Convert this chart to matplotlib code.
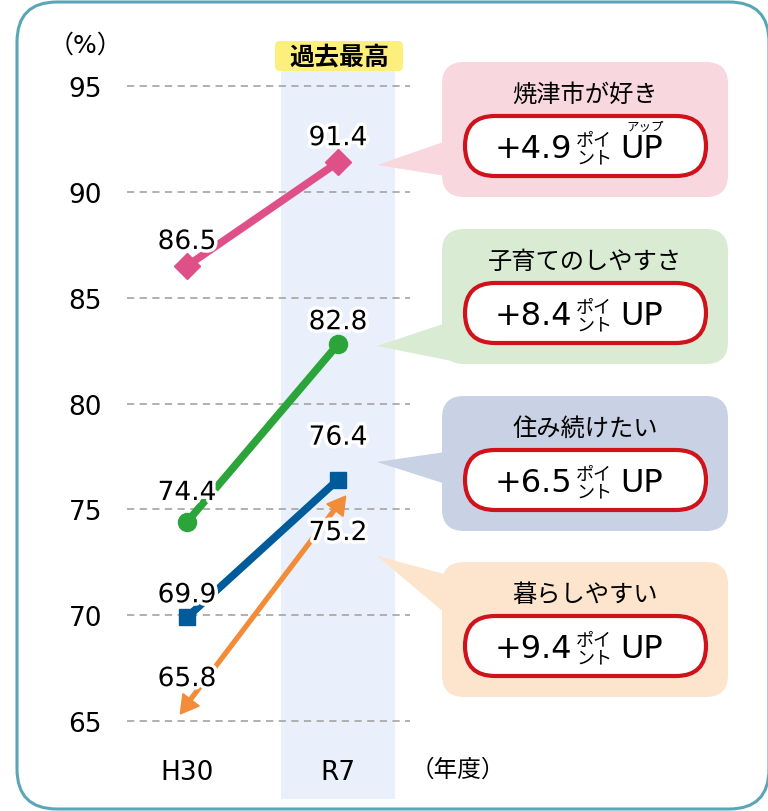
import matplotlib
matplotlib.use('Agg')
import numpy as np
import matplotlib.pyplot as plt
import matplotlib.patheffects as pe
from matplotlib.patches import FancyBboxPatch, Polygon

plt.rcParams['font.family'] = ['DejaVu Sans', 'Noto Sans CJK JP']

# donnees
years = ['H30', 'R7']
items = ['焼津市が好き', '子育てのしやすさ', '住み続けたい', '暮らしやすい']
h30 = [86.5, 74.4, 69.9, 65.8]
r7 = [91.4, 82.8, 76.4, 75.2]
yticks = [65, 70, 75, 80, 85, 90, 95]

# styles
line_colors = ['#df5088', '#2ba53a', '#005b9a', '#f28c38']
markers = ['D', 'o', 's', 'arrow']
msizes = [13, 13, 12, 17]
lwidths = [5.5, 5.5, 5.5, 3.8]
box_colors = ['#f8d8de', '#d9ebd2', '#c9d1e4', '#fde4cc']
lab_off = [(24, 24), (29, 22), (22, 42), (25, -28)]   # pixels au-dessus du point
box_tops = [63, 230, 397, 563]
tips = [166, 347, 463, 557]
bases = [(140, 178), (322, 362), (452, 487), (577, 620)]
red = '#d0121b'

W, H = 768, 812
fig = plt.figure(figsize=(W / 100, H / 100), dpi=100)

bg = fig.add_axes([0, 0, 1, 1], zorder=0)
bg.set_xlim(0, W)
bg.set_ylim(H, 0)
bg.axis('off')
bg.add_patch(FancyBboxPatch((17, 3), 752, 807, boxstyle='round,pad=0,rounding_size=40',
                            fc='white', ec='#5aa6b6', lw=2.2))

# axe du graphique : 95 -> y=87px, 65 -> y=722px ; H30 -> x=187px, R7 -> x=338px
ppu = (722 - 87) / 30
top_px, bot_px = 40, 745
ax = fig.add_axes([127 / W, (H - bot_px) / H, 283 / W, (bot_px - top_px) / H], zorder=1)
ax.patch.set_alpha(0)
ax.set_xlim(-60 / 151, 223 / 151)
ax.set_ylim(65 - (bot_px - 722) / ppu, 95 + (87 - top_px) / ppu)
for s in ax.spines.values():
    s.set_visible(False)

# bande "過去最高"
band_bot = 65 - (800 - 722) / ppu
band_top = 95 + (87 - 72) / ppu
ax.bar(1, band_top - band_bot, bottom=band_bot, width=114 / 151, color='#e9f0fb',
       zorder=0, clip_on=False)

ax.hlines(yticks, ax.get_xlim()[0], ax.get_xlim()[1], colors='#aaaaaa', lw=1.3,
          linestyles=(0, (4, 3)), zorder=1)
ax.set_yticks(yticks)
ax.set_xticks([0, 1], years)
ax.tick_params(axis='y', length=0, pad=18, labelsize=19)
ax.tick_params(axis='x', length=0, pad=11, labelsize=19)

stroke = [pe.withStroke(linewidth=5, foreground='white')]
for i in range(4):
    c = line_colors[i]
    if markers[i] == 'arrow':
        ax.plot([0, 1], [h30[i], r7[i]], color=c, lw=lwidths[i], zorder=3)
        p0 = ax.transData.transform((0, h30[i]))
        p1 = ax.transData.transform((1, r7[i]))
        ang = np.degrees(np.arctan2(p1[1] - p0[1], p1[0] - p0[0]))
        ax.plot([1], [r7[i]], ls='none', marker=(3, 0, ang - 90), ms=msizes[i],
                color=c, zorder=3)
        ax.plot([0], [h30[i]], ls='none', marker=(3, 0, ang + 90), ms=msizes[i],
                color=c, zorder=3)
    else:
        ax.plot([0, 1], [h30[i], r7[i]], color=c, lw=lwidths[i], marker=markers[i],
                ms=msizes[i], zorder=3, solid_capstyle='butt')
    for x, v, off in [(0, h30[i], lab_off[i][0]), (1, r7[i], lab_off[i][1])]:
        ax.annotate(f'{v:.1f}', (x, v), xytext=(0, off), textcoords='offset pixels',
                    ha='center', va='center', fontsize=19, zorder=4, path_effects=stroke)

# couche du dessus : bulles et textes
ov = fig.add_axes([0, 0, 1, 1], zorder=2)
ov.patch.set_alpha(0)
ov.set_xlim(0, W)
ov.set_ylim(H, 0)
ov.axis('off')

ov.text(85, 46, '（%）', ha='center', va='center', fontsize=18)
ov.text(458, 770, '（年度）', ha='center', va='center', fontsize=17)
ov.add_patch(FancyBboxPatch((275, 42), 128, 30, boxstyle='round,pad=0,rounding_size=5',
                            fc='#fcef7c', ec='none'))
ov.text(339, 57, '過去最高', ha='center', va='center', fontsize=18, fontweight='bold')

for i in range(4):
    t = box_tops[i]
    ov.add_patch(FancyBboxPatch((442, t), 286, 135, boxstyle='round,pad=0,rounding_size=22',
                                fc=box_colors[i], ec='none'))
    ov.add_patch(Polygon([(377, tips[i]), (452, bases[i][0]), (452, bases[i][1])],
                         closed=True, fc=box_colors[i], ec='none'))
    ov.text(585, t + 32, items[i], ha='center', va='center', fontsize=17.5)
    cy = t + 84
    ov.add_patch(FancyBboxPatch((465, cy - 30), 241, 60, boxstyle='round,pad=0,rounding_size=30',
                                fc='white', ec=red, lw=3))
    diff = r7[i] - h30[i]
    ov.text(572, cy + 3, f'+{diff:.1f}', ha='right', va='center', fontsize=23)
    ov.text(594, cy - 6, 'ポイ', ha='center', va='center', fontsize=13)
    ov.text(594, cy + 11, 'ント', ha='center', va='center', fontsize=13)
    ov.text(620, cy + 3, 'UP', ha='left', va='center', fontsize=23)
    if i == 0:
        ov.text(645, cy - 20, 'アップ', ha='center', va='center', fontsize=9)

fig.savefig('out.png', dpi=100)
